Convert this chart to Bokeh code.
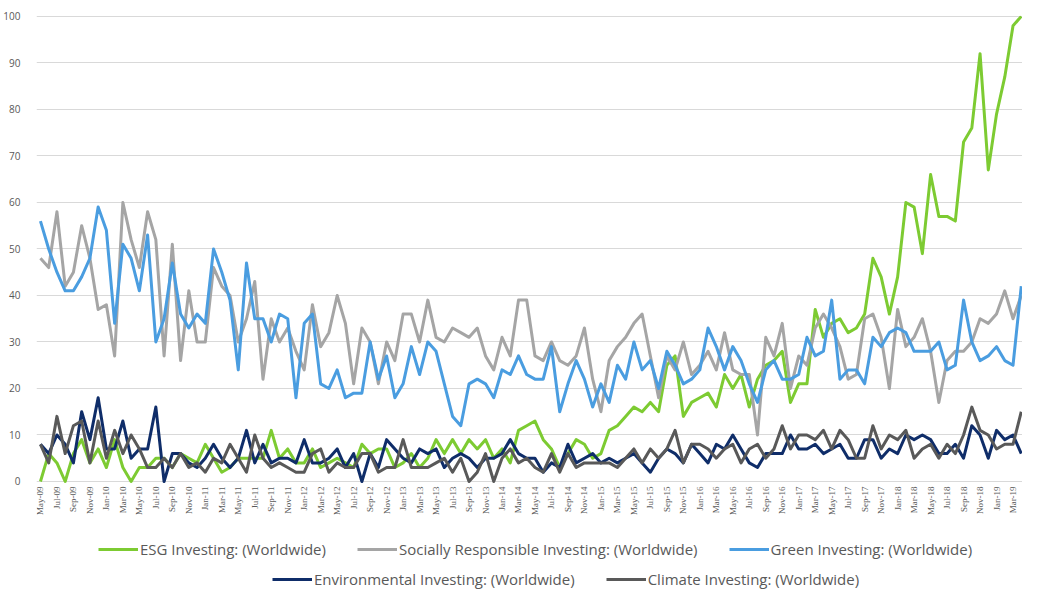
import math
import pandas as pd
from bokeh.plotting import figure
from bokeh.models import ColumnDataSource, FixedTicker, Legend, LegendItem, Range1d
from bokeh.embed import file_html
from bokeh.resources import INLINE

months = list(pd.date_range("2009-05-01", periods=120, freq="MS").strftime("%b-%y"))

esg = [0, 6, 4, 0, 6, 9, 4, 7, 3, 9, 3, 0, 3, 3, 5, 5, 3, 6, 5, 4,
       8, 5, 2, 3, 5, 5, 5, 5, 11, 5, 7, 4, 4, 7, 3, 4, 5, 4, 3, 8,
       6, 7, 7, 3, 4, 6, 3, 5, 9, 6, 9, 6, 9, 7, 9, 5, 7, 4, 11, 12,
       13, 9, 7, 3, 6, 9, 8, 5, 6, 11, 12, 14, 16, 15, 17, 15, 25, 27, 14, 17,
       18, 19, 16, 23, 20, 23, 16, 22, 25, 26, 28, 17, 21, 21, 37, 31, 34, 35, 32, 33,
       36, 48, 44, 36, 44, 60, 59, 49, 66, 57, 57, 56, 73, 76, 92, 67, 79, 87, 98, 100]

sri = [48, 46, 58, 42, 45, 55, 48, 37, 38, 27, 60, 52, 46, 58, 52, 27, 51, 26, 41, 30,
       30, 46, 42, 40, 30, 35, 43, 22, 35, 30, 33, 28, 24, 38, 29, 32, 40, 34, 21, 33,
       30, 21, 30, 26, 36, 36, 30, 39, 31, 30, 33, 32, 31, 33, 27, 24, 31, 27, 39, 39,
       27, 26, 30, 26, 25, 27, 33, 22, 15, 26, 29, 31, 34, 36, 27, 18, 27, 24, 30, 23,
       25, 28, 24, 32, 24, 23, 23, 10, 31, 27, 34, 20, 27, 25, 33, 36, 33, 29, 22, 23,
       35, 36, 31, 20, 37, 29, 31, 35, 28, 17, 26, 28, 28, 30, 35, 34, 36, 41, 35, 40]

green = [56, 50, 45, 41, 41, 44, 48, 59, 54, 34, 51, 48, 41, 53, 30, 35, 47, 36, 33, 36,
         34, 50, 45, 39, 24, 47, 35, 35, 30, 36, 35, 18, 34, 36, 21, 20, 24, 18, 19, 19,
         30, 22, 27, 18, 21, 29, 23, 30, 28, 21, 14, 12, 21, 22, 21, 18, 24, 23, 27, 23,
         22, 22, 29, 15, 21, 26, 22, 16, 21, 17, 25, 22, 30, 24, 26, 20, 28, 25, 21, 22,
         24, 33, 29, 24, 29, 26, 21, 17, 24, 26, 22, 22, 23, 31, 27, 28, 39, 22, 24, 24,
         21, 31, 29, 32, 33, 32, 28, 28, 28, 30, 24, 25, 39, 30, 26, 27, 29, 26, 25, 42]

environmental = [8, 6, 10, 8, 4, 15, 9, 18, 7, 7, 13, 5, 7, 7, 16, 0, 6, 6, 4, 3,
                 5, 8, 5, 3, 5, 11, 4, 8, 4, 5, 5, 4, 9, 4, 4, 5, 7, 3, 6, 0,
                 6, 3, 9, 7, 5, 4, 7, 6, 7, 3, 5, 6, 5, 3, 5, 5, 6, 9, 6, 5,
                 5, 2, 4, 3, 8, 4, 5, 6, 4, 5, 4, 5, 6, 4, 2, 5, 7, 6, 4, 8,
                 6, 4, 8, 7, 10, 7, 4, 3, 6, 6, 6, 10, 7, 7, 8, 6, 7, 8, 5, 5,
                 9, 9, 5, 7, 6, 10, 9, 10, 9, 6, 6, 8, 5, 12, 10, 5, 11, 9, 10, 6]

climate = [8, 4, 14, 6, 12, 13, 4, 13, 5, 11, 6, 10, 7, 3, 3, 5, 3, 6, 3, 4,
           2, 5, 4, 8, 5, 2, 10, 5, 3, 4, 3, 2, 2, 6, 7, 2, 4, 3, 3, 6,
           6, 2, 3, 3, 9, 3, 3, 3, 4, 5, 2, 5, 0, 2, 6, 0, 5, 7, 4, 5,
           3, 2, 6, 2, 6, 3, 4, 4, 4, 4, 3, 5, 7, 4, 7, 5, 7, 11, 4, 8,
           8, 7, 5, 7, 8, 4, 7, 8, 5, 7, 12, 7, 10, 10, 9, 11, 7, 11, 9, 5,
           5, 12, 7, 10, 9, 11, 5, 7, 8, 5, 8, 6, 10, 16, 11, 10, 7, 8, 8, 15]

series_names = ["ESG Investing: (Worldwide)",
                "Socially Responsible Investing: (Worldwide)",
                "Green Investing: (Worldwide)",
                "Environmental Investing: (Worldwide)",
                "Climate Investing: (Worldwide)"]
series_colors = ["#7DCB32", "#A5A5A5", "#4A9DE0", "#0F2D69", "#595959"]
series_cols = ["esg", "sri", "green", "env", "clim"]

idx = list(range(len(months)))
source = ColumnDataSource(dict(x=idx, esg=esg, sri=sri, green=green,
                               env=environmental, clim=climate))

# month labels every second month
label_x = idx[::2]
label_text = months[::2]
label_source = ColumnDataSource(dict(x=label_x, y=[0] * len(label_x), text=label_text))

p = figure(width=1022, height=590, output_backend="svg", toolbar_location=None,
           x_axis_location=None,
           x_range=Range1d(-0.48, 119.15), y_range=Range1d(-23.44, 100.2),
           min_border_left=0, min_border_right=0, min_border_top=15, min_border_bottom=0)
p.outline_line_color = None
p.background_fill_color = "white"
p.border_fill_color = "white"

renderers = []
for col, color in zip(series_cols, series_colors):
    renderers.append(p.line("x", col, source=source, line_color=color,
                            line_width=3, line_join="round"))

p.text(x="x", y="y", text="text", source=label_source, angle=math.pi / 2,
       text_align="right", text_baseline="middle", y_offset=5,
       text_font="Open Sans", text_font_size="9px", text_color="#595959")

p.yaxis.ticker = FixedTicker(ticks=list(range(0, 101, 10)))
p.yaxis.major_label_text_font_size = "10px"
p.yaxis.major_label_text_color = "#595959"
p.yaxis.major_label_text_font = "Open Sans"
p.yaxis.axis_line_color = None
p.yaxis.major_tick_line_color = None
p.yaxis.minor_tick_line_color = None
p.yaxis.major_label_standoff = 10

p.xgrid.grid_line_color = None
p.ygrid.grid_line_color = "#D9D9D9"
p.ygrid.grid_line_width = 1

def make_legend(items, loc):
    return Legend(items=items, orientation="horizontal", location=loc,
                  label_text_font_size="15px", label_text_font="Open Sans",
                  label_text_color="#595959", glyph_width=40, glyph_height=18,
                  label_standoff=2, spacing=31, padding=0, margin=0,
                  border_line_color=None, background_fill_alpha=0)

leg1 = make_legend([LegendItem(label=series_names[i], renderers=[renderers[i]]) for i in range(3)], (62, 31))
leg2 = make_legend([LegendItem(label=series_names[i], renderers=[renderers[i]]) for i in range(3, 5)], (236, 1))
p.add_layout(leg1, "center")
p.add_layout(leg2, "center")

open("out.html", "w").write(file_html(p, INLINE))
